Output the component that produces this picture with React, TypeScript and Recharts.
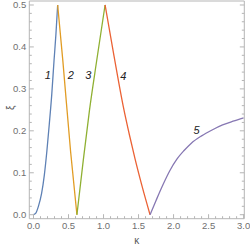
import { Line, LineChart, ReferenceDot, XAxis, YAxis } from "recharts";

const FRAME = "#b5b5b5";
const TICK_TEXT = "#707070";
const FONT = "'Liberation Sans', Arial, sans-serif";

// branch 1 (blue)
const kappa1 = [0, 0.03, 0.07, 0.115, 0.155, 0.19, 0.225, 0.26, 0.293, 0.32, 0.345];
const xi1 = [0, 0.003, 0.02, 0.05, 0.095, 0.15, 0.215, 0.285, 0.367, 0.43, 0.5];
// branch 2 (orange)
const kappa2 = [0.345, 0.42, 0.53, 0.62];
const xi2 = [0.5, 0.365, 0.15, 0];
// branch 3 (green)
const kappa3 = [0.62, 0.711, 0.8, 0.902, 1.022];
const xi3 = [0, 0.13, 0.25, 0.367, 0.5];
// branch 4 (red)
const kappa4 = [1.022, 1.15, 1.283, 1.37, 1.45, 1.55, 1.664];
const xi4 = [0.5, 0.378, 0.257, 0.19, 0.133, 0.068, 0];
// branch 5 (purple)
const kappa5 = [1.664, 1.75, 1.85, 1.95, 2.05, 2.15, 2.25, 2.4, 2.55, 2.7, 2.85, 3.0];
const xi5 = [0, 0.034, 0.072, 0.106, 0.133, 0.153, 0.17, 0.188, 0.202, 0.214, 0.223, 0.231];

const branchColors = ["#5e81b5", "#e19c24", "#8fb032", "#eb6235", "#8778b3"];

const curveLabels = ["1", "2", "3", "4", "5"];
const labelKappa = [0.203, 0.531, 0.784, 1.284, 2.33];
const labelXi = [0.333, 0.333, 0.333, 0.331, 0.202];

const xMajor = [0, 0.5, 1, 1.5, 2, 2.5, 3];
const xMinor = [
  0.1, 0.2, 0.3, 0.4, 0.6, 0.7, 0.8, 0.9, 1.1, 1.2, 1.3, 1.4,
  1.6, 1.7, 1.8, 1.9, 2.1, 2.2, 2.3, 2.4, 2.6, 2.7, 2.8, 2.9,
];
const yMajor = [0, 0.1, 0.2, 0.3, 0.4, 0.5];
const yMinor = [
  0.02, 0.04, 0.06, 0.08, 0.12, 0.14, 0.16, 0.18, 0.22, 0.24, 0.26, 0.28,
  0.32, 0.34, 0.36, 0.38, 0.42, 0.44, 0.46, 0.48,
];

const X_DOMAIN = [-0.06, 3.01];
const Y_DOMAIN = [-0.0095, 0.5095];

const branches = [
  [kappa1, xi1],
  [kappa2, xi2],
  [kappa3, xi3],
  [kappa4, xi4],
  [kappa5, xi5],
].map(([k, v], i) => ({
  color: branchColors[i],
  data: k.map((x, j) => ({ x, y: v[j] })),
}));

const xTicks = [...xMajor, ...xMinor].sort((a, b) => a - b);
const yTicks = [...yMajor, ...yMinor].sort((a, b) => a - b);

const DIRS: Record<string, [number, number]> = {
  bottom: [0, -1],
  top: [0, 1],
  left: [1, 0],
  right: [-1, 0],
};

// inward-pointing frame ticks, labels only on bottom/left majors
function FrameTick({ x, y, payload, side, major, labelled }: any) {
  const v = payload.value;
  const isMajor = major.includes(v);
  const len = isMajor ? 4.5 : 2.5;
  const [dx, dy] = DIRS[side];
  const text = { fill: TICK_TEXT, fontSize: 9.5, fontFamily: FONT };
  return (
    <g>
      <line x1={x} y1={y} x2={x + dx * len} y2={y + dy * len} stroke={FRAME} strokeWidth={1} />
      {labelled && isMajor && side === "bottom" && (
        <text x={x} y={y + 10.5} textAnchor="middle" {...text}>
          {v.toFixed(1)}
        </text>
      )}
      {labelled && isMajor && side === "left" && (
        <text x={x - 3} y={y + 3.4} textAnchor="end" {...text}>
          {v.toFixed(1)}
        </text>
      )}
    </g>
  );
}

function AxisTitle({ viewBox, value, dx = 0, dy = 0, rotate = false }: any) {
  const cx = viewBox.x + viewBox.width / 2 + dx;
  const cy = viewBox.y + viewBox.height / 2 + dy;
  return (
    <text
      x={cx}
      y={cy}
      textAnchor="middle"
      dominantBaseline="central"
      transform={rotate ? `rotate(-90 ${cx} ${cy})` : undefined}
      fill="#555"
      fontSize={10}
      fontFamily={FONT}
    >
      {value}
    </text>
  );
}

export default function App() {
  return (
    <div style={{ position: "absolute", left: 0, top: 0 }}>
      <LineChart width={250} height={246} margin={{ top: 0, right: 0, bottom: 0, left: 0 }}>
        <XAxis
          xAxisId="b"
          dataKey="x"
          type="number"
          domain={X_DOMAIN}
          allowDataOverflow
          ticks={xTicks}
          interval={0}
          height={27.3}
          tickSize={0}
          tickMargin={0}
          tickLine={false}
          axisLine={{ stroke: FRAME }}
          tick={(p: any) => <FrameTick {...p} side="bottom" major={xMajor} labelled />}
          label={(p: any) => <AxisTitle {...p} value="κ" dy={7.7} />}
        />
        <XAxis
          xAxisId="t"
          orientation="top"
          type="number"
          domain={X_DOMAIN}
          allowDataOverflow
          ticks={xTicks}
          interval={0}
          height={1}
          tickSize={0}
          tickMargin={0}
          tickLine={false}
          axisLine={{ stroke: FRAME }}
          tick={(p: any) => <FrameTick {...p} side="top" major={xMajor} />}
        />
        <YAxis
          yAxisId="l"
          type="number"
          domain={Y_DOMAIN}
          allowDataOverflow
          ticks={yTicks}
          interval={0}
          width={29.3}
          tickSize={0}
          tickMargin={0}
          tickLine={false}
          axisLine={{ stroke: FRAME }}
          tick={(p: any) => <FrameTick {...p} side="left" major={yMajor} labelled />}
          label={(p: any) => <AxisTitle {...p} value="ξ" dx={-4.6} dy={-2} rotate />}
        />
        <YAxis
          yAxisId="r"
          orientation="right"
          type="number"
          domain={Y_DOMAIN}
          allowDataOverflow
          ticks={yTicks}
          interval={0}
          width={5.7}
          tickSize={0}
          tickMargin={0}
          tickLine={false}
          axisLine={{ stroke: FRAME }}
          tick={(p: any) => <FrameTick {...p} side="right" major={yMajor} />}
        />
        {branches.map((b, i) => (
          <Line
            key={i}
            xAxisId="b"
            yAxisId="l"
            data={b.data}
            dataKey="y"
            type="monotone"
            stroke={b.color}
            strokeWidth={1.3}
            dot={false}
            activeDot={false}
            isAnimationActive={false}
          />
        ))}
        {curveLabels.map((t, i) => (
          <ReferenceDot
            key={t}
            xAxisId="b"
            yAxisId="l"
            x={labelKappa[i]}
            y={labelXi[i]}
            r={0}
            shape={(p: any) => (
              <text
                x={p.cx}
                y={p.cy}
                textAnchor="middle"
                dominantBaseline="central"
                fill="#222"
                fontSize={11}
                fontStyle="italic"
                fontFamily={FONT}
              >
                {t}
              </text>
            )}
          />
        ))}
      </LineChart>
    </div>
  );
}
